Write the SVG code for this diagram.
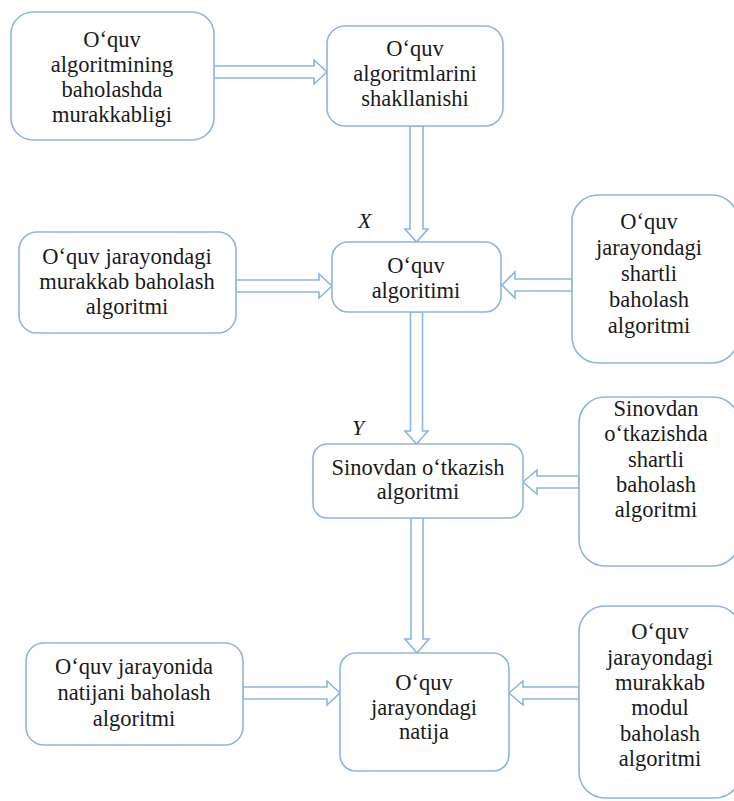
<svg xmlns="http://www.w3.org/2000/svg" width="734" height="801" viewBox="0 0 734 801">
<style>
.box{fill:#fff;stroke:#8fb4e3;stroke-width:1.6}
.arr{fill:#fff;stroke:#8fb4e3;stroke-width:1.6;stroke-linejoin:miter}
.t{font-family:'Times New Roman','Liberation Serif',serif;font-size:22.5px;fill:#1a1a1a;text-anchor:middle}
.lab{font-family:'Times New Roman','Liberation Serif',serif;font-size:22px;font-style:italic;fill:#1a1a1a}
</style>
<rect width="734" height="801" fill="#fff"/>
<g id="connectors">
<polygon class="arr" points="214,66 314,66 314,60 327,72 314,84 314,78 214,78"/>
<polygon class="arr" points="410,126 410,229 405,229 416.5,242 428,229 423,229 423,126"/>
<polygon class="arr" points="236,280 319,280 319,274 332,286 319,298 319,292 236,292"/>
<polygon class="arr" points="572,279 515,279 515,272 502,285 515,298 515,291 572,291"/>
<polygon class="arr" points="410.5,312 410.5,431 405,431 416.5,444 428,431 422.5,431 422.5,312"/>
<polygon class="arr" points="579,476 537,476 537,470 523,482 537,494 537,488 579,488"/>
<polygon class="arr" points="411,518 411,639 405,639 417,653 429,639 423,639 423,518"/>
<polygon class="arr" points="243,687 327,687 327,681 340,693 327,705 327,699 243,699"/>
<polygon class="arr" points="579,687 523,687 523,681 509,693 523,705 523,699 579,699"/>
</g>
<g id="n1">
<rect class="box" x="11" y="12" width="203" height="128" rx="22"/>
<text class="t" x="112" y="47">O‘quv</text>
<text class="t" x="112" y="72">algoritmining</text>
<text class="t" x="112" y="97">baholashda</text>
<text class="t" x="112" y="122">murakkabligi</text>
</g>
<g id="n2">
<rect class="box" x="327" y="26" width="176" height="100" rx="18"/>
<text class="t" x="415" y="56">O‘quv</text>
<text class="t" x="415" y="81">algoritmlarini</text>
<text class="t" x="415" y="106">shakllanishi</text>
</g>
<g id="nX">
<rect class="box" x="332" y="242" width="169" height="70" rx="16"/>
<text class="t" x="416" y="273">O‘quv</text>
<text class="t" x="416" y="298">algoritimi</text>
<text class="lab" x="358" y="228">X</text>
</g>
<g id="nL1">
<rect class="box" x="19" y="232" width="217" height="101" rx="18"/>
<text class="t" x="127" y="264">O‘quv jarayondagi</text>
<text class="t" x="127" y="289">murakkab baholash</text>
<text class="t" x="127" y="314">algoritmi</text>
</g>
<g id="nR1">
<rect class="box" x="572" y="195" width="166" height="168" rx="26"/>
<text class="t" x="649" y="229">O‘quv</text>
<text class="t" x="649" y="255">jarayondagi</text>
<text class="t" x="649" y="281">shartli</text>
<text class="t" x="649" y="307">baholash</text>
<text class="t" x="649" y="333">algoritmi</text>
</g>
<g id="nY">
<rect class="box" x="313" y="444" width="210" height="74" rx="14"/>
<text class="t" x="418" y="475">Sinovdan o‘tkazish</text>
<text class="t" x="418" y="499">algoritmi</text>
<text class="lab" x="352" y="435">Y</text>
</g>
<g id="nR2">
<rect class="box" x="579" y="397" width="160" height="169" rx="26"/>
<text class="t" x="656" y="416">Sinovdan</text>
<text class="t" x="656" y="441">o‘tkazishda</text>
<text class="t" x="656" y="467">shartli</text>
<text class="t" x="656" y="492">baholash</text>
<text class="t" x="656" y="517">algoritmi</text>
</g>
<g id="nB">
<rect class="box" x="340" y="653" width="169" height="118" rx="16"/>
<text class="t" x="424" y="690">O‘quv</text>
<text class="t" x="424" y="715">jarayondagi</text>
<text class="t" x="424" y="739">natija</text>
</g>
<g id="nL2">
<rect class="box" x="26" y="643" width="217" height="102" rx="18"/>
<text class="t" x="134" y="674">O‘quv jarayonida</text>
<text class="t" x="134" y="700">natijani baholash</text>
<text class="t" x="134" y="726">algoritmi</text>
</g>
<g id="nR3">
<rect class="box" x="579" y="606" width="162" height="192" rx="26"/>
<text class="t" x="660" y="639">O‘quv</text>
<text class="t" x="660" y="665">jarayondagi</text>
<text class="t" x="660" y="690">murakkab</text>
<text class="t" x="660" y="715">modul</text>
<text class="t" x="660" y="741">baholash</text>
<text class="t" x="660" y="766">algoritmi</text>
</g>
</svg>
